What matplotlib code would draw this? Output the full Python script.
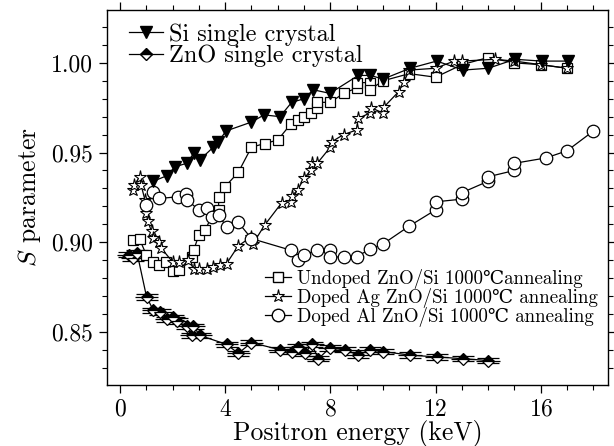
import matplotlib
matplotlib.use("Agg")
import matplotlib.pyplot as plt
from matplotlib.ticker import MultipleLocator, FormatStrFormatter
from matplotlib.lines import Line2D

plt.rcParams['font.family'] = ['cmr10', 'DejaVu Serif', 'DejaVu Sans']
plt.rcParams['mathtext.fontset'] = 'cm'
plt.rcParams['axes.formatter.use_mathtext'] = True

# ---- data ----
si_E = [1.27, 1.77, 2.09, 2.53, 2.83, 3.04, 3.55, 3.74, 4.03, 5.0, 5.48, 6.08, 6.53, 7.0, 7.35,
        7.98, 9.06, 9.51, 10.01, 11.03, 12.04, 13.05, 14.0, 15.02, 16.03, 17.05]
si_S = [0.934, 0.937, 0.942, 0.944, 0.950, 0.946, 0.953, 0.956, 0.962, 0.967, 0.971, 0.970, 0.978,
        0.980, 0.985, 0.983, 0.993, 0.993, 0.991, 0.997, 1.001, 0.996, 0.997, 1.002, 1.001, 1.001]

zno_E = [0.35, 0.5, 0.65, 1.01, 1.27, 1.52, 1.77, 2.03, 2.15, 2.53, 2.72, 2.79, 3.04, 4.05, 4.5,
         5.0, 6.08, 6.53, 6.78, 7.03, 7.29, 7.54, 7.98, 8.56, 9.06, 9.51, 10.01, 11.03, 12.04,
         13.05, 14.0]
zno_S = [0.893, 0.891, 0.894, 0.8695, 0.862, 0.861, 0.857, 0.858, 0.856, 0.853, 0.848, 0.853,
         0.848, 0.843, 0.838, 0.844, 0.840, 0.839, 0.8415, 0.838, 0.843, 0.835, 0.841, 0.840,
         0.837, 0.840, 0.839, 0.837, 0.836, 0.835, 0.834]

und_E = [0.5, 0.75, 1.0, 1.25, 1.5, 1.75, 2.0, 2.25, 2.75, 2.8, 3.0, 3.25, 3.5, 3.75, 3.75, 4.0,
         4.5, 5.0, 5.5, 6.0, 6.5, 6.75, 7.0, 7.25, 7.5, 7.5, 8.0, 8.5, 9.0, 9.0, 9.5, 9.5, 10.0,
         11.0, 12.0, 13.0, 14.0, 15.0, 16.0, 17.0]
und_S = [0.901, 0.9015, 0.893, 0.889, 0.887, 0.889, 0.884, 0.8847, 0.892, 0.8955, 0.904, 0.907,
         0.915, 0.918, 0.925, 0.931, 0.939, 0.953, 0.955, 0.957, 0.966, 0.968, 0.970, 0.972,
         0.975, 0.978, 0.978, 0.983, 0.986, 0.989, 0.989, 0.985, 0.990, 0.994, 0.992, 0.999,
         1.003, 1.000, 0.999, 0.997]

ag_E = [0.5, 0.55, 0.75, 0.8, 0.95, 1.0, 1.05, 1.2, 1.25, 1.5, 1.55, 2.0, 2.25, 2.6, 2.8, 3.0,
        3.3, 3.55, 3.8, 4.05, 4.5, 5.0, 5.05, 5.5, 6.15, 6.5, 6.55, 6.75, 7.0, 7.25, 7.3, 7.5,
        8.0, 8.05, 8.5, 9.0, 9.05, 9.5, 9.55, 10.0, 10.05, 10.6, 10.8, 11.0, 12.0, 12.7, 13.0,
        14.25, 15.0, 16.0, 17.0]
ag_S = [0.929, 0.932, 0.9365, 0.932, 0.9235, 0.916, 0.912, 0.906, 0.9025, 0.900, 0.897, 0.889,
        0.889, 0.890, 0.8853, 0.8853, 0.8853, 0.886, 0.887, 0.888, 0.898, 0.903, 0.899, 0.9095,
        0.922, 0.9226, 0.926, 0.929, 0.9356, 0.940, 0.944, 0.944, 0.953, 0.956, 0.960, 0.9626,
        0.969, 0.972, 0.975, 0.972, 0.9756, 0.984, 0.9896, 0.996, 0.997, 1.001, 1.001, 1.002,
        1.001, 0.999, 0.997]

al_E = [1.0, 1.25, 1.5, 2.2, 2.5, 2.55, 3.0, 3.3, 3.5, 3.75, 4.05, 4.5, 5.0, 6.5, 6.75, 7.0,
        7.5, 8.0, 8.0, 8.5, 9.0, 9.5, 10.0, 11.0, 12.0, 12.0, 13.0, 13.0, 14.0, 14.0, 15.0,
        15.0, 16.2, 17.0, 18.0]
al_S = [0.9207, 0.928, 0.9244, 0.9253, 0.927, 0.9235, 0.918, 0.919, 0.914, 0.915, 0.9086, 0.911,
        0.902, 0.8955, 0.890, 0.893, 0.8955, 0.8955, 0.892, 0.8915, 0.892, 0.896, 0.899, 0.909,
        0.918, 0.9225, 0.924, 0.9276, 0.934, 0.9365, 0.940, 0.944, 0.947, 0.951, 0.962]

zno_xerr = 0.45
zno_yerr = 0.0015

labels_top = ["Si single crystal", "ZnO single crystal"]
labels_bot = ["Undoped ZnO/Si 1000\u2103annealing",
              "Doped Ag ZnO/Si 1000\u2103 annealing",
              "Doped Al ZnO/Si 1000\u2103 annealing"]

# ---- figure ----
fig = plt.figure(figsize=(6.14, 4.46), dpi=100)
ax = fig.add_axes([0.174, 0.137, 0.816, 0.841])

lw = 0.9
ax.errorbar(zno_E, zno_S, xerr=zno_xerr, fmt='none', ecolor='black', elinewidth=0.9, capsize=0, zorder=2)
ax.errorbar(zno_E, zno_S, yerr=zno_yerr, fmt='none', ecolor='black', elinewidth=0.9, capsize=8,
            capthick=0.9, zorder=2)
ax.plot(zno_E, zno_S, '-', color='black', lw=lw, marker='D', ms=6.5, fillstyle='top',
        markerfacecolor='black', markerfacecoloralt='white', markeredgecolor='black',
        markeredgewidth=0.9, zorder=3)
ax.plot(und_E, und_S, '-', color='black', lw=lw, marker='s', ms=7.2, markerfacecolor='white',
        markeredgecolor='black', markeredgewidth=0.9, zorder=3)
ax.plot(ag_E, ag_S, '-', color='black', lw=lw, marker='*', ms=9.5, markerfacecolor='white',
        markeredgecolor='black', markeredgewidth=0.8, zorder=3)
ax.plot(al_E, al_S, '-', color='black', lw=lw, marker='o', ms=9, markerfacecolor='white',
        markeredgecolor='black', markeredgewidth=0.9, zorder=3)
ax.plot(si_E, si_S, '-', color='black', lw=lw, marker='v', ms=8.5, markerfacecolor='black',
        markeredgecolor='black', zorder=4)

ax.set_xlim(-0.5, 18.55)
ax.set_ylim(0.8204, 1.0296)
ax.xaxis.set_major_locator(MultipleLocator(4))
ax.xaxis.set_minor_locator(MultipleLocator(1))
ax.yaxis.set_major_locator(MultipleLocator(0.05))
ax.yaxis.set_minor_locator(MultipleLocator(0.01))
ax.yaxis.set_major_formatter(FormatStrFormatter('%.2f'))
ax.tick_params(which='both', direction='out', top=True, right=True, labeltop=False, labelright=False)
ax.tick_params(which='major', length=6, width=0.9, labelsize=17, pad=4)
ax.tick_params(which='minor', length=3.5, width=0.8)
for s in ax.spines.values():
    s.set_linewidth(1.0)

ax.set_xlabel("Positron energy (keV)", fontsize=18.5, labelpad=-1)
ax.set_ylabel(r"$S$ parameter", fontsize=18.5, labelpad=6)

h_si = Line2D([], [], color='black', lw=lw, marker='v', ms=8.5, markerfacecolor='black')
h_zn = Line2D([], [], color='black', lw=lw, marker='D', ms=6.5, fillstyle='top',
              markerfacecolor='black', markerfacecoloralt='white', markeredgecolor='black')
leg1 = ax.legend([h_si, h_zn], labels_top, loc='upper left', frameon=False, fontsize=17.5,
                 handlelength=1.4, handletextpad=0.25, labelspacing=-0.05,
                 bbox_to_anchor=(0.025, 0.99), borderaxespad=0.0)
ax.add_artist(leg1)

h_u = Line2D([], [], color='black', lw=lw, marker='s', ms=7.2, markerfacecolor='white')
h_a = Line2D([], [], color='black', lw=lw, marker='*', ms=9.5, markerfacecolor='white', markeredgewidth=0.8)
h_l = Line2D([], [], color='black', lw=lw, marker='o', ms=9, markerfacecolor='white')
ax.legend([h_u, h_a, h_l], labels_bot, loc='lower right', frameon=False, fontsize=13.6,
          handlelength=1.4, handletextpad=0.3, labelspacing=-0.05,
          bbox_to_anchor=(0.995, 0.135), borderaxespad=0.0)

fig.savefig("out.png", dpi=100)
